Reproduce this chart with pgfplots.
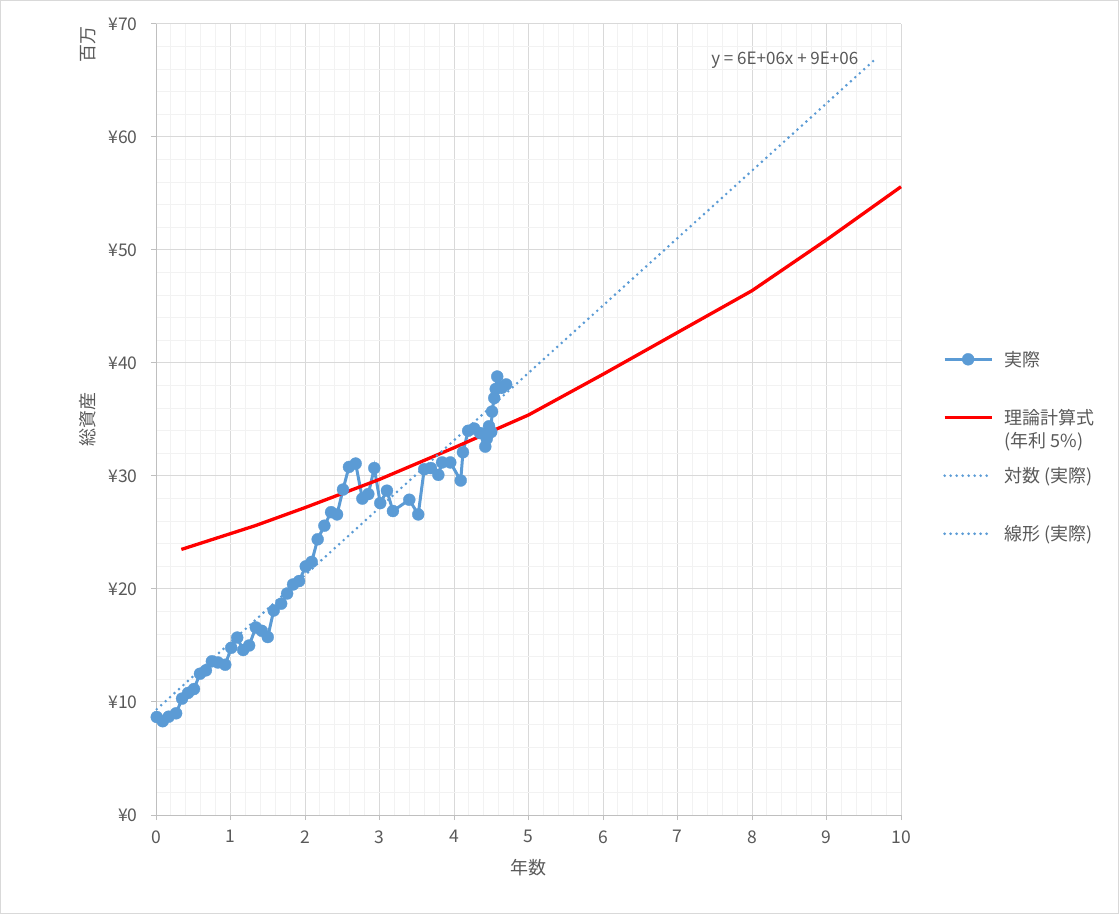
\documentclass[border=0pt]{standalone}
\usepackage{fontspec}
\setmainfont{Noto Sans CJK JP}
\usepackage{pgfplots}
\pgfplotsset{compat=1.18}
\definecolor{xblue}{HTML}{5B9BD5}
\definecolor{xred}{HTML}{FF0000}
\definecolor{txt}{HTML}{595959}
\definecolor{axl}{HTML}{BFBFBF}
\definecolor{gmaj}{HTML}{D9D9D9}
\definecolor{gmin}{HTML}{F2F2F2}
\pgfplotsset{trendstyle/.style={color=xblue, line width=2.9bp, line cap=round, dash pattern=on 0bp off 6bp}}

\pgfplotstableread{
x y
0.01 8.67
0.09 8.30
0.17 8.70
0.27 9.00
0.35 10.3
0.43 10.8
0.51 11.15
0.59 12.5
0.67 12.8
0.75 13.6
0.83 13.5
0.93 13.3
1.01 14.8
1.09 15.7
1.17 14.6
1.25 15.0
1.34 16.6
1.42 16.3
1.50 15.75
1.58 18.1
1.68 18.7
1.76 19.6
1.84 20.4
1.92 20.7
2.01 22.0
2.09 22.4
2.17 24.4
2.26 25.6
2.35 26.8
2.43 26.6
2.51 28.8
2.59 30.8
2.68 31.1
2.77 28.0
2.85 28.4
2.93 30.7
3.01 27.6
3.10 28.7
3.18 26.9
3.40 27.9
3.52 26.6
3.60 30.6
3.69 30.7
3.79 30.1
3.84 31.2
3.95 31.2
4.09 29.6
4.12 32.1
4.19 34.0
4.27 34.2
4.35 33.8
4.42 32.6
4.44 33.3
4.47 34.4
4.50 33.9
4.51 35.7
4.54 36.9
4.56 37.7
4.58 38.8
4.64 37.8
4.70 38.1
}\actual

\pgfplotstableread{
x y
0.34 23.5
1.33 25.6
2 27.2
3 29.7
4 32.5
5 35.4
6 39.0
7 42.7
8 46.4
9 50.9
10 55.6
}\theory

\pgfplotstableread{
x y
0.01 9.36
9.64 66.8
}\linear

\begin{document}
\begin{tikzpicture}
\draw[color=gmaj, line width=1bp] (0.5bp,0.5bp) rectangle (1118.5bp,913.5bp);
\begin{axis}[
  at={(156bp,99bp)}, anchor=south west,
  scale only axis, width=745bp, height=791bp,
  xmin=0, xmax=10, ymin=0, ymax=70,
  clip=false,
  axis lines=left, axis line style={-, color=axl, line width=1bp},
  xtick={0,...,10}, ytick={0,10,...,70},
  minor x tick num=4, minor y tick num=4,
  yticklabels={¥0,¥10,¥20,¥30,¥40,¥50,¥60,¥70},
  grid=both,
  major grid style={color=gmaj, line width=1bp},
  minor grid style={color=gmin, line width=1bp},
  tick align=outside, major tick length=5bp, minor tick length=0bp,
  tick style={color=axl, line width=1bp},
  ticklabel style={font=\fontsize{17.5bp}{20bp}\selectfont, text=txt},
  xticklabel style={yshift=-7bp},
  yticklabel style={xshift=-10bp},
  /pgf/number format/assume math mode=true,
  xlabel={年数}, ylabel={総資産},
  label style={font=\fontsize{18bp}{21bp}\selectfont, text=txt},
  xlabel style={at={(axis description cs:0.5,-0.067)}, anchor=center},
  ylabel style={at={(axis description cs:-0.0913,0.5)}, anchor=center},
  legend image code/.code={\draw[mark repeat=2,mark phase=2,#1] plot coordinates {(0bp,0bp) (23.5bp,0bp) (47bp,0bp)};},
  legend cell align=left,
  legend style={at={(axis description cs:1.0564,0.5866)}, anchor=north west,
    draw=none, fill=none, inner sep=0pt, outer sep=0pt,
    font=\fontsize{18bp}{21bp}\selectfont, text=txt,
    row sep=41.5bp,
    nodes={inner sep=0pt},
    /tikz/every odd column/.append style={column sep=11bp}},
]
\addplot[color=xblue, line width=3bp, mark=*, mark size=6bp,
  mark options={solid, fill=xblue, draw=xblue, line width=0.3bp}] table[x=x,y=y] {\actual};
\addlegendentry{実際}
\addplot[color=xred, line width=3.3bp] table[x=x,y=y] {\theory};
\addlegendentry{\rlap{\smash{\raisebox{-23bp}{(年利 5\%)}}}理論計算式}
\addlegendimage{trendstyle}
\addlegendentry{対数 (実際)}
\addplot[trendstyle] table[x=x,y=y] {\linear};
\addlegendentry{線形 (実際)}
\node[font=\fontsize{17bp}{20bp}\selectfont, text=txt] at (axis description cs:0.844,0.9545) {y = 6E+06x + 9E+06};
\node[rotate=90, font=\fontsize{18bp}{21bp}\selectfont, text=txt] at (axis description cs:-0.0913,0.9735) {百万};
\end{axis}
\end{tikzpicture}
\end{document}
